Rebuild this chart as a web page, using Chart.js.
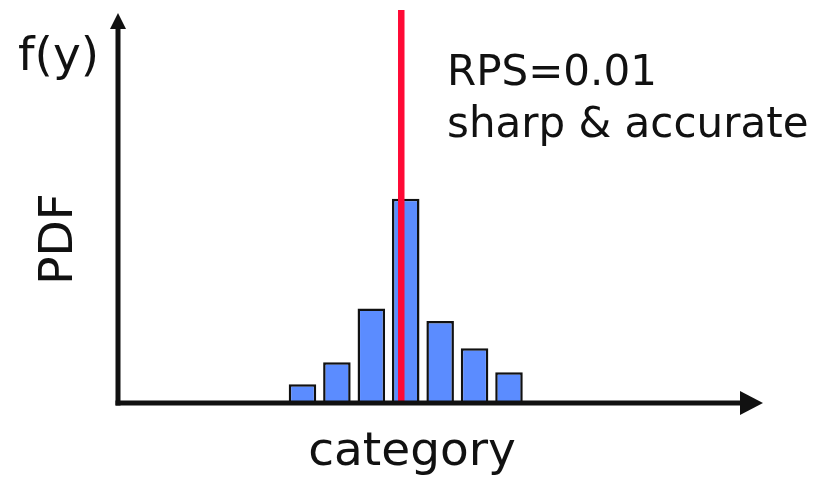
<!DOCTYPE html>
<html>
<head>
<meta charset="utf-8">
<script src="https://cdn.jsdelivr.net/npm/chart.js@4/dist/chart.umd.min.js"></script>
<style>
  body { margin: 0; background: #fff; }
  #wrap { width: 820px; height: 478px; position: relative; }
</style>
</head>
<body>
<div id="wrap"><canvas id="pdfChart"></canvas></div>
<script>
// forecast bins (centres) and their probabilities
const binCentres = [1, 2, 3, 4, 5, 6, 7]
const pdfValues = [0.034, 0.076, 0.179, 0.389, 0.155, 0.103, 0.057]
const observed = 3.87
const axisMin = -4.36
const axisMax = 14.38
const pdfMax = 0.75

const noteLines = ['RPS=0.01', 'sharp & accurate']
const yLabel = 'f(y)'
const yTitle = 'PDF'
const xTitle = 'category'

const ink = '#111'

// hand-drawn style axes with arrow heads + the labels
const axesPlugin = {
  id: 'arrowAxes',
  afterDatasetsDraw(chart) {
    const { ctx, chartArea } = chart
    const x0 = chartArea.left, y0 = chartArea.bottom + 1
    ctx.save()
    ctx.strokeStyle = ink
    ctx.fillStyle = ink
    ctx.lineWidth = 5
    ctx.lineCap = 'butt'
    // y axis
    ctx.beginPath()
    ctx.moveTo(x0, y0 + 2.5)
    ctx.lineTo(x0, chartArea.top + 14)
    ctx.stroke()
    ctx.beginPath()
    ctx.moveTo(x0, chartArea.top + 3)
    ctx.lineTo(x0 - 8, chartArea.top + 19)
    ctx.lineTo(x0 + 8, chartArea.top + 19)
    ctx.closePath()
    ctx.fill()
    // x axis
    ctx.beginPath()
    ctx.moveTo(x0 - 2.5, y0)
    ctx.lineTo(chartArea.right - 18, y0)
    ctx.stroke()
    ctx.beginPath()
    ctx.moveTo(chartArea.right, y0)
    ctx.lineTo(chartArea.right - 23, y0 - 12)
    ctx.lineTo(chartArea.right - 23, y0 + 12)
    ctx.closePath()
    ctx.fill()

    ctx.font = '47px "DejaVu Sans"'
    ctx.textBaseline = 'alphabetic'
    ctx.textAlign = 'left'
    ctx.fillText(yLabel, 18, 70)
    ctx.textAlign = 'center'
    ctx.fillText(xTitle, 412, 465)
    ctx.save()
    ctx.translate(72, 239)
    ctx.rotate(-Math.PI / 2)
    ctx.fillText(yTitle, 0, 0)
    ctx.restore()

    ctx.font = '42px "DejaVu Sans"'
    ctx.textAlign = 'left'
    noteLines.forEach((t, i) => ctx.fillText(t, 447, 85 + i * 52))
    ctx.restore()
  }
}

new Chart(document.getElementById('pdfChart'), {
  type: 'bar',
  data: {
    datasets: [{
      type: 'line',
      data: [{ x: observed, y: 0 }, { x: observed, y: pdfMax }],
      borderColor: '#ff0a35',
      borderWidth: 6.5,
      pointRadius: 0,
      order: 1
    }, {
      type: 'bar',
      data: binCentres.map((x, i) => ({ x: x, y: pdfValues[i] })),
      backgroundColor: '#5b8cff',
      borderColor: ink,
      borderWidth: 2.5,
      borderSkipped: 'start',
      barPercentage: 0.8,
      categoryPercentage: 1,
      order: 2
    }]
  },
  options: {
    responsive: true,
    maintainAspectRatio: false,
    animation: false,
    layout: { padding: { left: 118, right: 57, top: 10, bottom: 76 } },
    plugins: { legend: { display: false }, tooltip: { enabled: false } },
    scales: {
      x: { type: 'linear', min: axisMin, max: axisMax, offset: false, display: false },
      y: { min: 0, max: pdfMax, display: false }
    }
  },
  plugins: [axesPlugin]
})
</script>
</body>
</html>
